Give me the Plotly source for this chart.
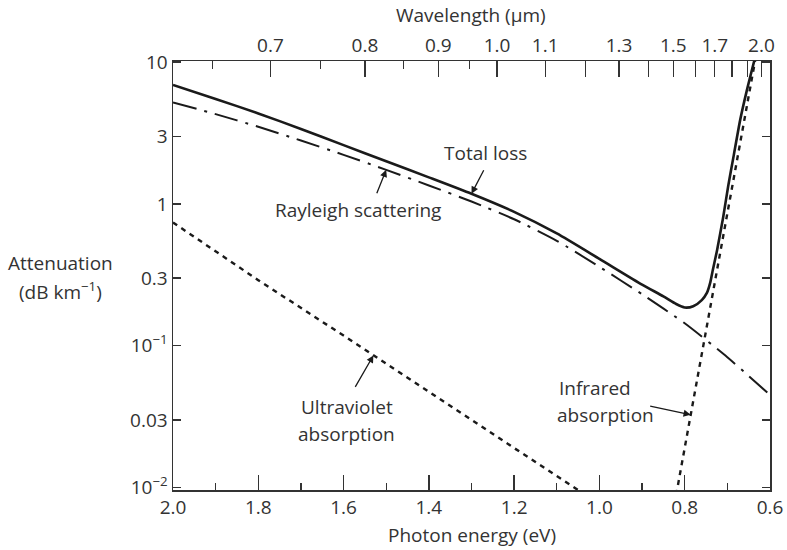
import numpy as np
import plotly.graph_objects as go

# ---------------- data ----------------
energy = [2.0, 1.9, 1.8, 1.7, 1.6, 1.5, 1.4, 1.3, 1.2, 1.1, 1.0, 0.9, 0.8, 0.7, 0.6]
rayleigh = [5.2, 4.3, 3.5, 2.8, 2.22, 1.74, 1.35, 1.04, 0.78, 0.55, 0.36, 0.231, 0.144, 0.083, 0.045]

total_energy = [2.0, 1.9, 1.8, 1.7, 1.6, 1.5, 1.4, 1.3, 1.2, 1.1, 1.0, 0.9, 0.85, 0.82, 0.80,
                0.78, 0.76, 0.748, 0.74, 0.734, 0.724, 0.71, 0.698, 0.685, 0.67, 0.655, 0.637]
total_loss = [6.9, 5.5, 4.35, 3.38, 2.6, 2.0, 1.54, 1.18, 0.88, 0.62, 0.41, 0.27, 0.223, 0.197, 0.186,
              0.19, 0.21, 0.236, 0.28, 0.343, 0.474, 0.8, 1.34, 2.2, 3.9, 6.2, 10.2]

uv_energy = [2.0, 1.8, 1.6, 1.4, 1.2, 1.05]
uv_abs = [0.74, 0.29, 0.118, 0.047, 0.019, 0.0096]

ir_energy = [0.82, 0.78, 0.74, 0.70, 0.66, 0.635]
ir_abs = [0.0089, 0.041, 0.19, 0.85, 3.9, 10.2]

y_ticks = [10, 3, 1, 0.3, 0.1, 0.03, 0.01]
y_ticktext = ["10", "3", "1", "0.3", "10<sup>−1</sup>", "0.03", "10<sup>−2</sup>"]
x_major = [2.0, 1.8, 1.6, 1.4, 1.2, 1.0, 0.8, 0.6]
x_ticktext = ["2.0", "1.8", "1.6", "1.4", "1.2", "1.0", "0.8", "0.6"]
x_minor = [1.9, 1.7, 1.5, 1.3, 1.1, 0.9, 0.7]
wl_major = [0.7, 0.8, 0.9, 1.0, 1.1, 1.2, 1.3, 1.4, 1.5, 1.6, 1.7, 1.8, 1.9, 2.0]
wl_labels = ["0.7", "0.8", "0.9", "1.0", "1.1", "", "1.3", "", "1.5", "", "1.7", "", "", "2.0"]
wl_minor = [0.65, 0.75, 0.85, 0.95]

# ---------------- figure ----------------
W, H = 787, 550
ML, MR, MT, MB = 173, 17, 61, 60
PW, PH = W - ML - MR, H - MT - MB
FONT = "Open Sans"
FS = 19
TXT = "#333333"
LINE = "#1a1a1a"

fig = go.Figure()
fig.add_trace(go.Scatter(x=total_energy, y=total_loss, mode="lines",
                         line=dict(color=LINE, width=2.6, shape="spline", smoothing=0.6),
                         hoverinfo="skip"))
fig.add_trace(go.Scatter(x=energy, y=rayleigh, mode="lines",
                         line=dict(color=LINE, width=2.0, dash="24px,8px,3px,8px",
                                   shape="spline", smoothing=0.6), hoverinfo="skip"))
fig.add_trace(go.Scatter(x=uv_energy, y=uv_abs, mode="lines",
                         line=dict(color=LINE, width=2.4, dash="5px,5px"), hoverinfo="skip"))
fig.add_trace(go.Scatter(x=ir_energy, y=ir_abs, mode="lines",
                         line=dict(color=LINE, width=2.4, dash="5px,5px"), hoverinfo="skip"))
# invisible trace to carry the top (wavelength) axis
fig.add_trace(go.Scatter(x=[1.0], y=[1.0], xaxis="x2", mode="markers",
                         marker=dict(opacity=0), hoverinfo="skip", showlegend=False))

tv_w = [1.24 / w for w in wl_major]
tv_wm = [1.24 / w for w in wl_minor]

fig.update_layout(
    template="none",
    width=W, height=H,
    margin=dict(l=ML, r=MR, t=MT, b=MB, autoexpand=False),
    paper_bgcolor="white", plot_bgcolor="white",
    showlegend=False,
    hovermode=False,
    font=dict(family=FONT, size=FS, color=TXT),
    xaxis=dict(range=[2.0, 0.6], showgrid=False, zeroline=False, automargin=False,
               showline=True, linecolor=TXT, linewidth=1.5, mirror=False,
               tickmode="array", tickvals=x_major, ticktext=x_ticktext,
               ticks="inside", ticklen=15, tickwidth=1.3, tickcolor=TXT,
               minor=dict(tickmode="array", tickvals=x_minor, ticks="inside",
                          ticklen=7, tickwidth=1.3, tickcolor=TXT, showgrid=False)),
    xaxis2=dict(range=[2.0, 0.6], overlaying="x", side="top", anchor="y",
                showgrid=False, zeroline=False, automargin=False,
                showline=True, linecolor=TXT, linewidth=1.5,
                tickmode="array", tickvals=tv_w, ticktext=wl_labels,
                ticks="inside", ticklen=16, tickwidth=1.3, tickcolor=TXT,
                minor=dict(tickmode="array", tickvals=tv_wm, ticks="inside",
                           ticklen=8, tickwidth=1.3, tickcolor=TXT, showgrid=False)),
    yaxis=dict(type="log", range=[-2.017, 1.008], showgrid=False, zeroline=False,
               automargin=False,
               showline=True, linecolor=TXT, linewidth=1.5, mirror="ticks",
               tickmode="array", tickvals=y_ticks, ticktext=y_ticktext,
               ticks="inside", ticklen=8, tickwidth=1.3, tickcolor=TXT),
)


def px(xp):
    return (xp - ML) / PW


def py(yp):
    return (MT + PH - yp) / PH


def on_curve(xs, ys, e):
    xs_a = np.array(xs)[::-1]
    ly = np.log10(np.array(ys))[::-1]
    return float(np.interp(e, xs_a, ly))


def label(text, x, y):
    return dict(text=text, x=px(x), y=py(y), xref="paper", yref="paper",
                showarrow=False, xanchor="center", yanchor="middle")


ann = [
    label("Photon energy (eV)", 472, 535),
    label("Wavelength (μm)", 471, 15),
    label("Attenuation", 60, 263),
    label("(dB km<sup>−1</sup>)", 60, 291),
    label("Total loss", 485, 153),
    label("Rayleigh scattering", 358, 210),
    label("Ultraviolet", 347, 407),
    label("absorption", 346, 434),
    label("Infrared", 595, 388),
    label("absorption", 605, 415),
]

arrow_style = dict(showarrow=True, arrowhead=2, arrowsize=1.1, arrowwidth=1.3,
                   arrowcolor=LINE, axref="pixel", ayref="pixel", text="", xref="x", yref="y")
ann.append(dict(x=1.30, y=on_curve(total_energy, total_loss, 1.30), ax=13, ay=-25, **arrow_style))
ann.append(dict(x=1.50, y=on_curve(energy, rayleigh, 1.50), ax=-10, ay=25, **arrow_style))
ann.append(dict(x=1.53, y=on_curve(uv_energy, uv_abs, 1.53), ax=-19, ay=33, **arrow_style))
ann.append(dict(x=0.786, y=on_curve(ir_energy, ir_abs, 0.786), ax=-42, ay=-9, **arrow_style))

fig.update_layout(annotations=ann)
fig.write_html("out.html",
               config={"displayModeBar": False, "staticPlot": True},
               post_script="document.body.style.margin='0px';document.body.style.padding='0px';")
